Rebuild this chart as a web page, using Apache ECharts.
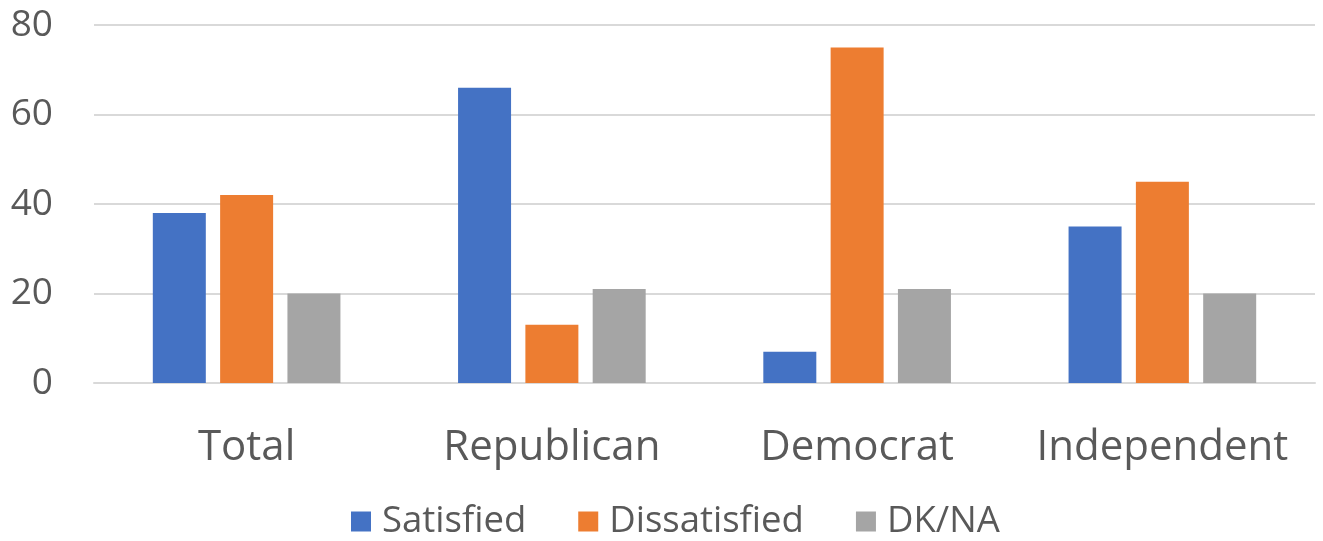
<!DOCTYPE html>
<html>
<head>
<meta charset="utf-8">
<script src="https://cdn.jsdelivr.net/npm/echarts@6/dist/echarts.min.js"></script>
<style>html,body{margin:0;padding:0;background:#fff}#c{width:1323px;height:541px}</style>
</head>
<body>
<div id="c"></div>
<script>
const categories = ['Total', 'Republican', 'Democrat', 'Independent'];
const satisfied = [38, 66, 7, 35];
const dissatisfied = [42, 13, 75, 45];
const dkna = [20, 21, 21, 20];
const seriesNames = ['Satisfied', 'Dissatisfied', 'DK/NA'];
const yTicks = [0, 20, 40, 60, 80];

const font = '"Open Sans", sans-serif';
const chart = echarts.init(document.getElementById('c'));
chart.setOption({
  animation: false,
  textStyle: { fontFamily: font },
  grid: { left: 94, right: 8, top: 25, bottom: 158 },
  legend: {
    bottom: -4, left: 346,
    itemWidth: 20, itemHeight: 20, itemGap: 52,
    icon: 'rect',
    textStyle: { fontSize: 36.5, color: '#595959', fontFamily: font, padding: [0, 0, 0, 6] },
    data: seriesNames
  },
  xAxis: {
    type: 'category', data: categories,
    axisLine: { lineStyle: { color: '#d9d9d9', width: 2 } },
    axisTick: { show: false },
    axisLabel: { fontSize: 42, color: '#595959', margin: 44, interval: 0, fontFamily: font }
  },
  yAxis: {
    type: 'value', min: yTicks[0], max: yTicks[yTicks.length - 1], interval: 20,
    axisLine: { show: false }, axisTick: { show: false },
    splitLine: { lineStyle: { color: '#d9d9d9', width: 2 } },
    axisLabel: { fontSize: 37, color: '#595959', margin: 41, fontFamily: font }
  },
  series: [
    { name: seriesNames[0], type: 'bar', data: satisfied, itemStyle: { color: '#4472c4' }, barWidth: 53, barGap: '27%' },
    { name: seriesNames[1], type: 'bar', data: dissatisfied, itemStyle: { color: '#ed7d31' }, barWidth: 53, barGap: '27%' },
    { name: seriesNames[2], type: 'bar', data: dkna, itemStyle: { color: '#a5a5a5' }, barWidth: 53, barGap: '27%' }
  ]
});
</script>
</body>
</html>
